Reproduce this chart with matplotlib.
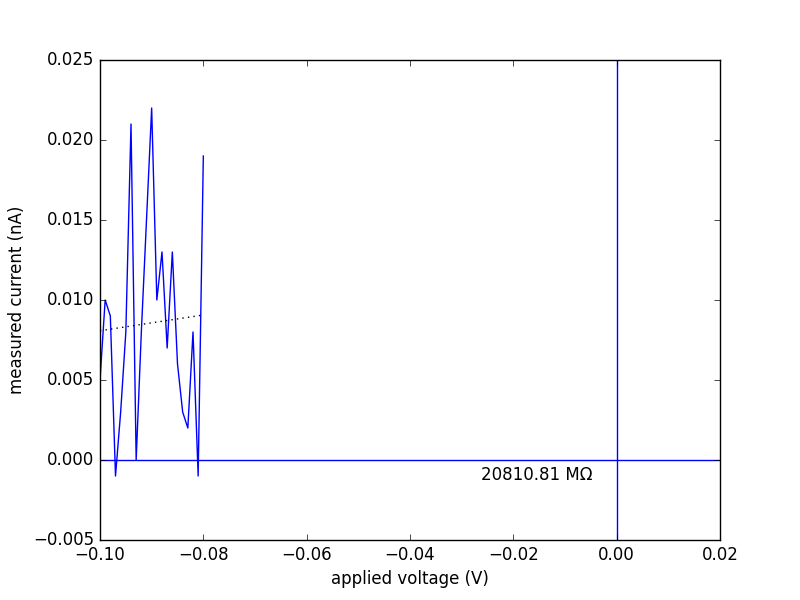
import numpy as np
import matplotlib
matplotlib.use("Agg")
import matplotlib.pyplot as plt

plt.style.use('classic')

voltage = [-0.100, -0.099, -0.098, -0.097, -0.096, -0.095, -0.094, -0.093, -0.092,
           -0.091, -0.090, -0.089, -0.088, -0.087, -0.086, -0.085, -0.084, -0.083,
           -0.082, -0.081, -0.080]
current = [0.005, 0.010, 0.009, -0.001, 0.003, 0.008, 0.021, 0.000, 0.008,
           0.015, 0.022, 0.010, 0.013, 0.007, 0.013, 0.006, 0.003, 0.002,
           0.008, -0.001, 0.019]
resistance_label = "20810.81 M\u03a9"

v = np.array(voltage)
i = np.array(current)
slope, intercept = np.polyfit(v, i, 1)

fig = plt.figure(figsize=(8, 6), dpi=100)
ax = fig.add_subplot(111)
ax.plot(v, i, color='b')
ax.plot(v, slope * v + intercept, 'k:')
ax.axhline(0, color='b')
ax.axvline(0, color='b')
ax.text(-0.0263, -0.00125, resistance_label, fontsize=12)
ax.set_xlim(-0.1, 0.02)
ax.set_ylim(-0.005, 0.025)
ax.set_xlabel('applied voltage (V)')
ax.set_ylabel('measured current (nA)')
fig.savefig('out.png', dpi=100)
